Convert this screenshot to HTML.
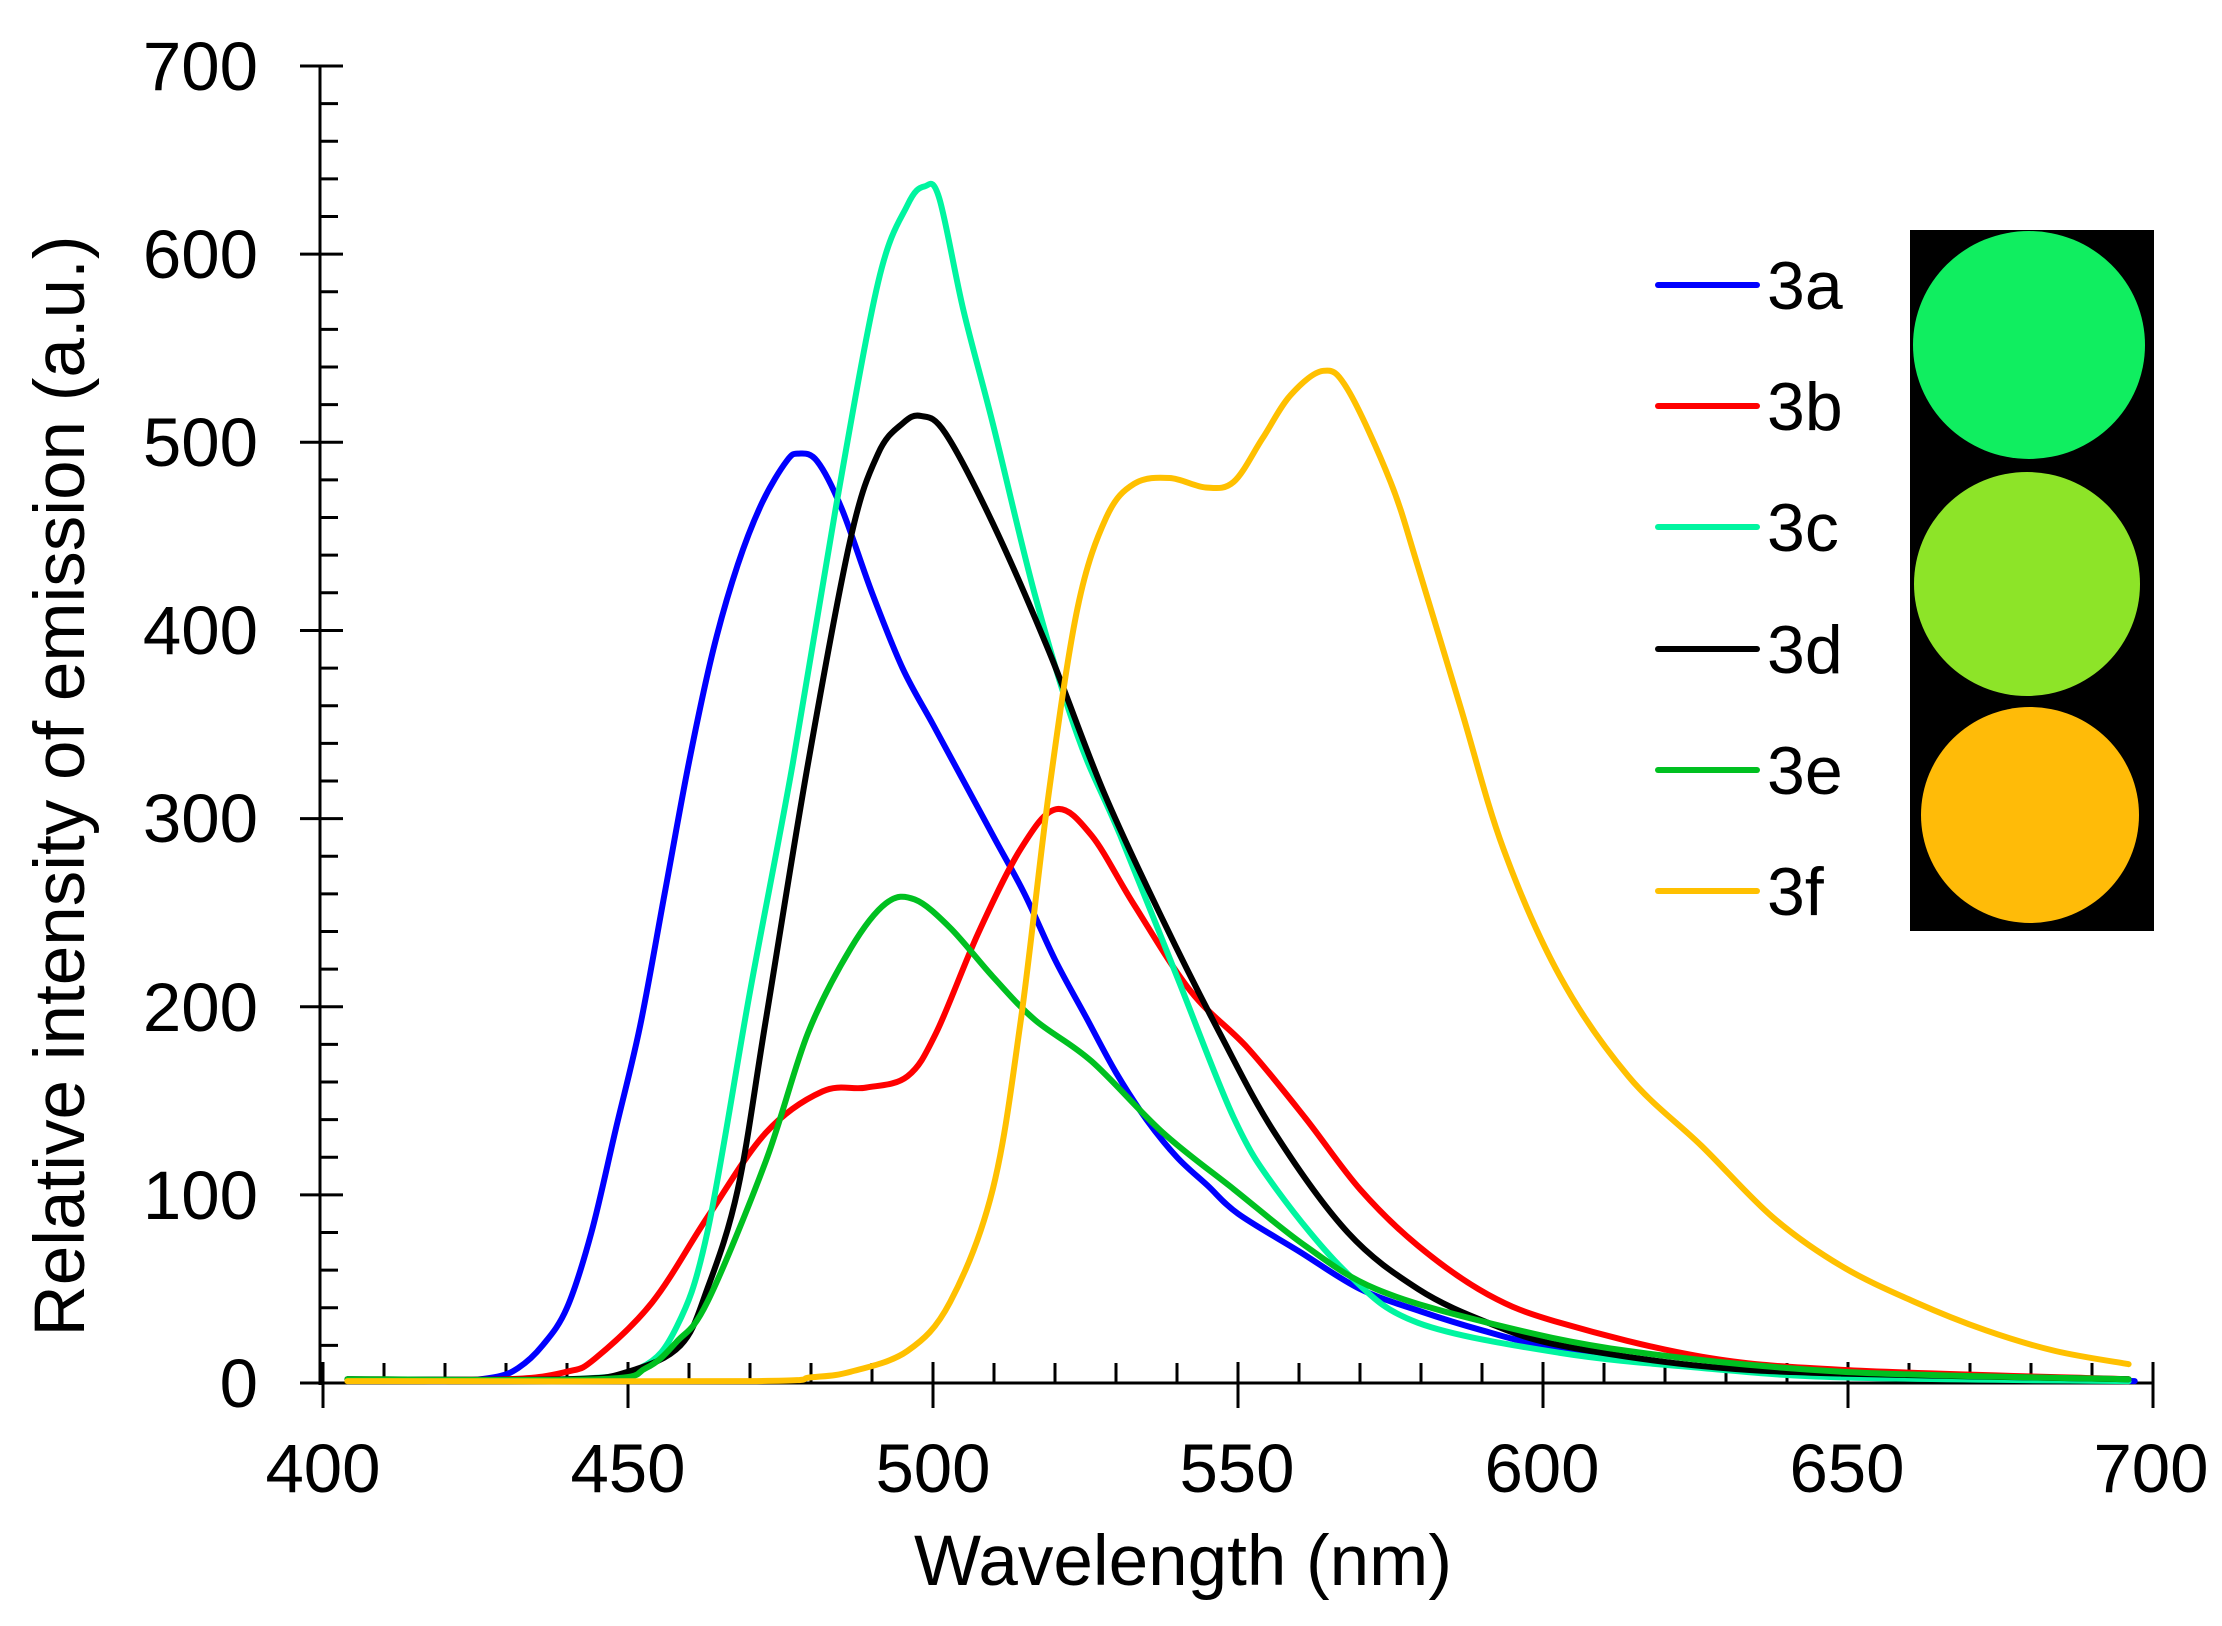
<!DOCTYPE html>
<html><head><meta charset="utf-8"><style>
html,body{margin:0;padding:0;background:#fff;}
svg{display:block;font-family:"Liberation Sans",Arial,sans-serif;}
</style></head><body>
<svg id="s" width="2222" height="1626" viewBox="0 0 2222 1626" xmlns="http://www.w3.org/2000/svg">
<rect width="2222" height="1626" fill="#fff"/>
<g id="axes" stroke="#000" stroke-width="3"></g>
<g id="curves" fill="none" stroke-width="6" stroke-linejoin="round" stroke-linecap="round"></g>
<g font-size="69" fill="#000" text-anchor="end">
<text x="258" y="90">700</text><text x="258" y="278">600</text><text x="258" y="466">500</text>
<text x="258" y="654">400</text><text x="258" y="842">300</text><text x="258" y="1031">200</text>
<text x="258" y="1219">100</text><text x="258" y="1407">0</text>
</g>
<g font-size="69" fill="#000" text-anchor="middle">
<text x="323" y="1492">400</text><text x="628" y="1492">450</text><text x="933" y="1492">500</text>
<text x="1237" y="1492">550</text><text x="1542" y="1492">600</text><text x="1847" y="1492">650</text>
<text x="2151" y="1492">700</text>
<text x="1183" y="1585" font-size="71">Wavelength (nm)</text>
<text transform="translate(84,786) rotate(-90)" font-size="71">Relative intensity of emission (a.u.)</text>
</g>
<g stroke-width="6" stroke-linecap="round">
<line x1="1658" y1="285" x2="1757" y2="285" stroke="#0000ff"/>
<line x1="1658" y1="406" x2="1757" y2="406" stroke="#ff0000"/>
<line x1="1658" y1="527" x2="1757" y2="527" stroke="#00f5a0"/>
<line x1="1658" y1="649" x2="1757" y2="649" stroke="#000"/>
<line x1="1658" y1="770" x2="1757" y2="770" stroke="#00c020"/>
<line x1="1658" y1="891" x2="1757" y2="891" stroke="#ffc000"/>
</g>
<g font-size="68" fill="#000">
<text x="1767" y="309">3a</text><text x="1767" y="430">3b</text><text x="1767" y="551">3c</text>
<text x="1767" y="673">3d</text><text x="1767" y="794">3e</text><text x="1767" y="915">3f</text>
</g>
<rect x="1910" y="230" width="244" height="701" fill="#000"/>
<ellipse cx="2029" cy="345" rx="116" ry="114" fill="#10ee60"/>
<ellipse cx="2027" cy="584" rx="113" ry="112" fill="#8de428"/>
<ellipse cx="2030" cy="815" rx="109" ry="108" fill="#ffbb08"/>
</svg>
<script>
var X=function(w){return 323+(w-400)*305/50;},Y=function(v){return 1383-v*1.8814;};
var ax=document.getElementById('axes'),ns='http://www.w3.org/2000/svg';
function ln(a,b,c,d){var l=document.createElementNS(ns,'line');l.setAttribute('x1',a);l.setAttribute('y1',b);l.setAttribute('x2',c);l.setAttribute('y2',d);ax.appendChild(l);}
ln(320,66,320,1385);ln(300,1383,2153,1383);
for(var v=0;v<=700;v+=20){var y=Y(v);if(v%100==0)ln(300,y,343,y);else ln(320,y,338,y);}
for(var w=400;w<=700;w+=10){var x=X(w);if(w%50==0)ln(x,1362,x,1408);else ln(x,1363,x,1383);}
var D={
'#0000ff':[[404,2],[420,1],[428,3],[432,8],[436,20],[440,40],[444,80],[448,135],[452,190],[456,260],[460,330],[464,390],[468,435],[472,468],[476,490],[478,494],[481,490],[485,465],[490,420],[495,380],[500,350],[505,320],[510,290],[515,260],[520,225],[525,195],[530,165],[535,140],[540,120],[545,105],[550,90],[560,70],[570,50],[580,38],[590,28],[600,20],[620,10],[640,6],[660,4],[697,1]],
'#ff0000':[[404,2],[430,2],[440,6],[444.6,13],[454,43],[463,88],[472.6,133],[481.9,155],[489,157],[495.8,163],[500.5,186],[507.4,239],[514.4,284],[520.2,305],[526,291],[533,254],[542.3,208],[551.6,178],[561,141],[570,103],[579.5,73],[591,47],[602.8,32],[626,14],[649,7],[696,2]],
'#00f5a0':[[404,2],[440,2],[452,8],[458,30],[463,80],[470,208],[477,329],[484,464],[491,585],[495.8,626],[498.6,636],[501,630],[505,570],[509.8,510],[516.7,419],[523.7,344],[530.7,291],[540,216],[549.3,141],[556.3,103],[568,58],[579.5,32],[602.8,16],[626,8],[649,3],[696,1]],
'#000000':[[404,2],[440,2],[450,6],[458.6,20],[463,50],[468,103],[472.6,193],[479.5,329],[486.5,449],[491,494],[495,510],[498,514],[502,505],[509.8,457],[519,389],[528,314],[537.7,246],[547,186],[556,133],[568,80],[579.5,50],[591,32],[602.8,20],[626,9],[649,5],[696,2]],
'#00c020':[[404,2],[445,2],[453,8],[458,22],[463,43],[472.6,118],[479.5,186],[486.5,231],[492.3,255],[497,257],[502.8,242],[509.8,216],[516.7,193],[526,171],[537.7,133],[549.3,103],[561,73],[572.6,50],[591,32],[614,17],[649,6],[696,2]],
'#ffc000':[[404,1],[470,1],[480,3],[486.5,6],[495.8,17],[502.8,43],[509.8,103],[514.4,193],[519,314],[523.7,412],[528.4,460],[533,478],[538.8,481],[544.7,476],[549.3,479],[554,502],[558.6,525],[564,538],[568,528],[575,479],[579.5,434],[586.5,359],[593.5,284],[602.8,216],[614,163],[626,126],[637.7,88],[649,62],[661,43],[672.6,28],[684,17],[696,10]]};
var g=document.getElementById('curves');
for(var c in D){var p=D[c].map(function(q){return [X(q[0]),Y(q[1])];});var d='M'+p[0][0]+','+p[0][1];
for(var i=0;i<p.length-1;i++){var p0=p[i-1]||p[i],p1=p[i],p2=p[i+1],p3=p[i+2]||p2;
d+='C'+(p1[0]+(p2[0]-p0[0])/6)+','+(p1[1]+(p2[1]-p0[1])/6)+' '+(p2[0]-(p3[0]-p1[0])/6)+','+(p2[1]-(p3[1]-p1[1])/6)+' '+p2[0]+','+p2[1];}
var e=document.createElementNS(ns,'path');e.setAttribute('d',d);e.setAttribute('stroke',c);g.appendChild(e);}
</script>
</body></html>
